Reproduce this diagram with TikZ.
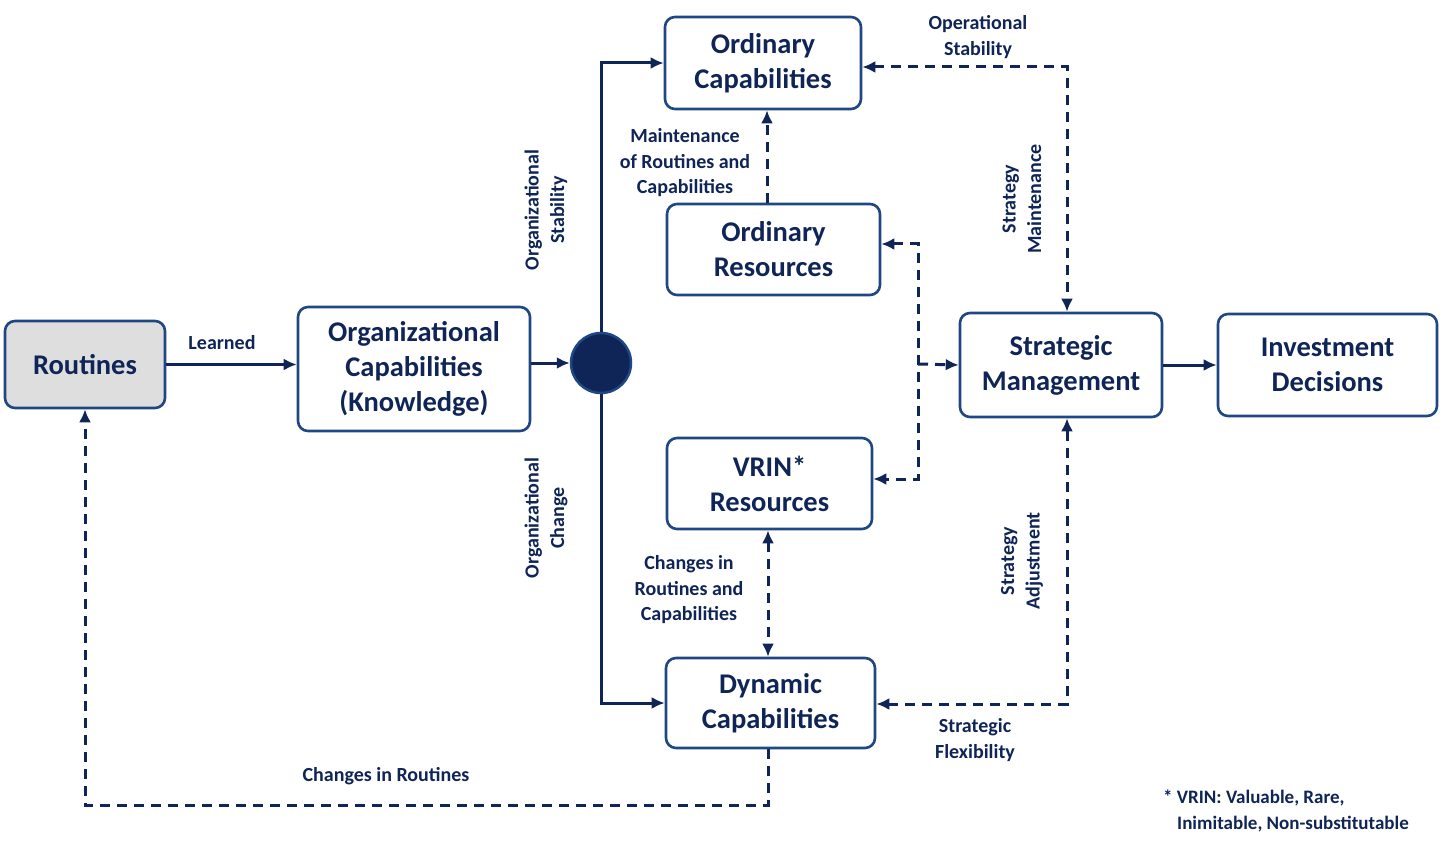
\documentclass[tikz,border=0pt]{standalone}
\usepackage{fontspec}
\setmainfont{Carlito}
\usetikzlibrary{arrows.meta}
\definecolor{navy}{HTML}{0F2557}
\definecolor{boxc}{HTML}{1F4784}
\definecolor{grayfill}{HTML}{DEDEDE}
\tikzset{
  box/.style={draw=boxc, line width=2.6pt, rounded corners=10pt, fill=white, align=center,
    text=navy, inner sep=0pt, font=\fontsize{28.5}{35}\selectfont\bfseries},
  lbl/.style={align=center, text=navy, inner sep=0pt, font=\fontsize{20}{25.5}\selectfont\bfseries},
  sol/.style={draw=navy, line width=3pt, -{Latex[length=13pt,width=12pt]}},
  dsh/.style={draw=navy, line width=3pt, dash pattern=on 10pt off 7pt},
  tip/.style={-{Latex[length=13pt,width=12pt]}},
  tips/.style={{Latex[length=13pt,width=12pt]}-{Latex[length=13pt,width=12pt]}},
}
\begin{document}
\begin{tikzpicture}[x=1pt,y=-1pt]
\path[fill=white] (0,0) rectangle (1443,861);
\useasboundingbox (0,0) rectangle (1443,861);

\node[box, fill=grayfill, minimum width=160pt, minimum height=87pt] (rt) at (85,364.5) {Routines};
\node[box, minimum width=232pt, minimum height=124pt] (ok) at (414,369) {Organizational\\Capabilities\\(Knowledge)};
\node[circle, fill=navy, draw=boxc, line width=2.5pt, minimum size=60pt, inner sep=0pt] (c) at (601,363) {};
\node[box, minimum width=196pt, minimum height=92pt] (oc) at (763,63) {Ordinary\\Capabilities};
\node[box, minimum width=213pt, minimum height=91pt] (or) at (773.5,249.5) {Ordinary\\Resources};
\node[box, minimum width=205pt, minimum height=91pt] (vr) at (769.5,483.5) {VRIN*\\Resources};
\node[box, minimum width=209pt, minimum height=90pt] (dc) at (770.5,703) {Dynamic\\Capabilities};
\node[box, minimum width=202pt, minimum height=104pt] (sm) at (1061,365) {Strategic\\Management};
\node[box, minimum width=219pt, minimum height=102pt] (id) at (1327.5,365) {Investment\\Decisions};

\coordinate (br) at (918,364);
\coordinate (lp) at (85,805);
\coordinate (tr) at (1067,67);
\coordinate (btr) at (1067,704);

% solid connectors
\draw[sol] (rt.east) -- (rt.east -| ok.west);
\draw[sol] (ok.east |- c) -- (c);
\draw[sol] (c.north) |- (oc.west);
\draw[sol] (c.south) |- (dc.west);
\draw[sol] (sm) -- (id);

% dashed connectors
\draw[dsh, tip] (or.north -| 767,0) -- (oc.south -| 767,0);
\draw[dsh, tips] (vr.south -| 768,0) -- (dc.north -| 768,0);
\draw[dsh, tips] (or.east |- 0,244) -| (br) |- (vr.east |- 0,479);
\draw[dsh, tip] (br) -- (sm.west);
\draw[dsh, tips] (oc.east |- tr) -- (tr) -- (sm.north -| tr);
\draw[dsh, tips] (dc.east |- btr) -- (btr) -- (sm.south -| btr);
\draw[dsh, tip] (dc.south -| 768,0) |- (lp) -- (rt.south);

% labels
\node[lbl] (lLearned) at (222,343) {Learned};
\node[lbl, rotate=90] (lOS) at (546,210) {Organizational\\Stability};
\node[lbl, rotate=90] (lOC) at (546,518) {Organizational\\Change};
\node[lbl] (lMaint) at (685,163) {Maintenance\\of Routines and\\Capabilities};
\node[lbl] (lChg) at (689,590) {Changes in\\Routines and\\Capabilities};
\node[lbl] (lOpS) at (978,37) {Operational\\Stability};
\node[lbl, rotate=90] (lSMn) at (1022,199) {Strategy\\Maintenance};
\node[lbl, rotate=90] (lSAd) at (1022,561) {Strategy\\Adjustment};
\node[lbl] (lSF) at (975,740) {Strategic\\Flexibility};
\node[lbl] (lCR) at (386,776) {Changes in Routines};
\node[lbl, align=left, anchor=north west, font=\fontsize{19}{25.5}\selectfont\bfseries] (note) at (1163,790) {* VRIN: Valuable, Rare,\\\hspace*{14pt}Inimitable, Non-substitutable};
\end{tikzpicture}
\end{document}
